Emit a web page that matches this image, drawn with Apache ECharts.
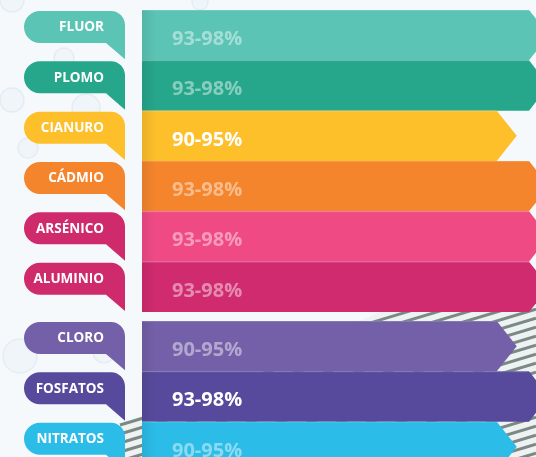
<!DOCTYPE html>
<html><head><meta charset="utf-8">
<script src="https://cdn.jsdelivr.net/npm/echarts@6/dist/echarts.min.js"></script>
<style>html,body{margin:0;padding:0;background:#f6f9fc}#c{width:536px;height:457px}</style>
</head><body><div id="c"></div>
<script>
// ---- data ----
const categories = ['FLUOR', 'PLOMO', 'CIANURO', 'CÁDMIO', 'ARSÉNICO', 'ALUMINIO', 'CLORO', 'FOSFATOS', 'NITRATOS'];
const lowValues  = [93, 93, 90, 93, 93, 93, 90, 93, 90];
const highValues = [98, 98, 95, 98, 98, 98, 95, 98, 95];
const rangeLabels = categories.map((c, i) => lowValues[i] + '-' + highValues[i] + '%');
const groupSplit = 6; // first group: FLUOR..ALUMINIO, second: CLORO..NITRATOS
const highlighted = ['CIANURO', 'FOSFATOS'];

// ---- styles ----
const barColors = ['#5bc4b5', '#26a68b', '#fdbf2a', '#f5852d', '#f04a85', '#d02b6f', '#7460a8', '#574a9d', '#2bbde8'];
const tagColors = ['#5bc4b5', '#26a68b', '#fdbf2a', '#f5852d', '#cf2a6c', '#cf2a6c', '#7460a8', '#574a9d', '#2bbde8'];

const chart = echarts.init(document.getElementById('c'), null, {renderer: 'canvas'});

function renderRow(params, api) {
  const high = api.value(0);
  const local = api.value(1);
  const gi = api.value(2);
  const cs = params.coordSys;
  const c = api.coord([high, local]);
  const band = api.size([0, 1])[1];
  const top = c[1] - band / 2, bottom = c[1] + band / 2, mid = c[1];
  const x0 = cs.x, xe = c[0], tip = 20;
  const t = top + 1, b = t + 32, tb = bottom - 1;
  const L = 24, R = 125, r = 16, k = 8.84, rr = 14, kk = 7.73;
  const path = 'M ' + (L + r) + ' ' + t +
    ' L ' + (R - rr) + ' ' + t +
    ' C ' + (R - rr + kk) + ' ' + t + ' ' + R + ' ' + (t + rr - kk) + ' ' + R + ' ' + (t + rr) +
    ' L ' + R + ' ' + tb +
    ' L ' + (R - 19) + ' ' + b +
    ' L ' + (L + r) + ' ' + b +
    ' C ' + (L + r - k) + ' ' + b + ' ' + L + ' ' + (b - r + k) + ' ' + L + ' ' + (b - r) +
    ' C ' + L + ' ' + (t + r - k) + ' ' + (L + r - k) + ' ' + t + ' ' + (L + r) + ' ' + t + ' Z';
  const isHi = highlighted.indexOf(categories[gi]) >= 0;
  return {
    type: 'group',
    children: [
      {type: 'polygon', shape: {points: [[x0, top], [xe, top], [xe + tip, mid], [xe, bottom], [x0, bottom]]},
       style: {fill: barColors[gi]}},
      {type: 'rect', shape: {x: x0, y: top, width: 14, height: band},
       style: {fill: {type: 'linear', x: 0, y: 0, x2: 1, y2: 0,
         colorStops: [{offset: 0, color: 'rgba(0,0,0,0.08)'}, {offset: 1, color: 'rgba(0,0,0,0)'}]}}},
      {type: 'rect', shape: {x: x0, y: top, width: xe - x0, height: 1},
       style: {fill: 'rgba(255,255,255,0.15)'}},
      {type: 'text', style: {text: rangeLabels[gi], x: x0 + 30, y: mid + 4, align: 'left', verticalAlign: 'middle',
        fill: isHi ? '#ffffff' : 'rgba(255,255,255,0.45)', fontSize: 20, fontWeight: 'bold', fontFamily: 'Open Sans'}},
      {type: 'path', shape: {pathData: path}, style: {fill: tagColors[gi]}},
      {type: 'text', style: {text: categories[gi], x: 104, y: t + 16.5, align: 'right', verticalAlign: 'middle',
        fill: '#ffffff', fontSize: 13.5, fontWeight: 'bold', fontFamily: 'Open Sans'}}
    ]
  };
}

const catA = categories.slice(0, groupSplit), catB = categories.slice(groupSplit);
const dataA = catA.map((c, i) => [highValues[i], i, i]);
const dataB = catB.map((c, i) => [highValues[i + groupSplit], i, i + groupSplit]);

// ---- decorations: bubbles and a wire fence ----
const deco = [];
[[12, 0, 12], [64, 58, 10], [12, 100, 12], [86, 108, 14], [28, 148, 10], [20, 356, 17], [104, 352, 11], [200, 2, 8]].forEach(p => {
  deco.push({type: 'circle', z: 0, shape: {cx: p[0], cy: p[1], r: p[2]},
    style: {fill: 'rgba(225,236,245,0.25)', stroke: 'rgba(180,202,220,0.22)', lineWidth: 1.5}});
});
function yb(x) { return x <= 380 ? 425 - (x - 120) * 113 / 260 : 312 - (x - 380) * 22 / 156; }
deco.push({type: 'polygon', z: 0, shape: {points: [[120, 425], [380, 312], [536, 290], [536, 457], [120, 457]]},
  style: {fill: '#eef2f2'}});
for (let cst = 290; cst <= 600; cst += 9) {
  let run = null;
  for (let x = 120; x <= 538; x += 2) {
    const y = cst - 0.3 * (x - 120);
    const inside = y >= yb(x) && y <= 459;
    if (inside && !run) run = [x, y];
    if ((!inside || x >= 536) && run) {
      deco.push({type: 'line', z: 0, shape: {x1: run[0], y1: run[1], x2: x, y2: y},
        style: {stroke: '#7b8985', lineWidth: 3}});
      run = null;
    }
  }
}

chart.setOption({
  backgroundColor: '#f6f9fc',
  animation: false,
  graphic: deco,
  grid: [
    {left: 142, width: 387, top: 10, height: 302, outerBoundsMode: 'none', containLabel: false},
    {left: 142, width: 387, top: 321, height: 151, outerBoundsMode: 'none', containLabel: false}
  ],
  xAxis: [
    {gridIndex: 0, type: 'value', min: 62, max: 98, show: false},
    {gridIndex: 1, type: 'value', min: 62, max: 98, show: false}
  ],
  yAxis: [
    {gridIndex: 0, type: 'category', data: catA, inverse: true, show: false},
    {gridIndex: 1, type: 'category', data: catB, inverse: true, show: false}
  ],
  series: [
    {type: 'custom', xAxisIndex: 0, yAxisIndex: 0, renderItem: renderRow, encode: {x: 0, y: 1}, data: dataA, clip: false, z: 5},
    {type: 'custom', xAxisIndex: 1, yAxisIndex: 1, renderItem: renderRow, encode: {x: 0, y: 1}, data: dataB, clip: false, z: 5}
  ]
});
</script></body></html>
